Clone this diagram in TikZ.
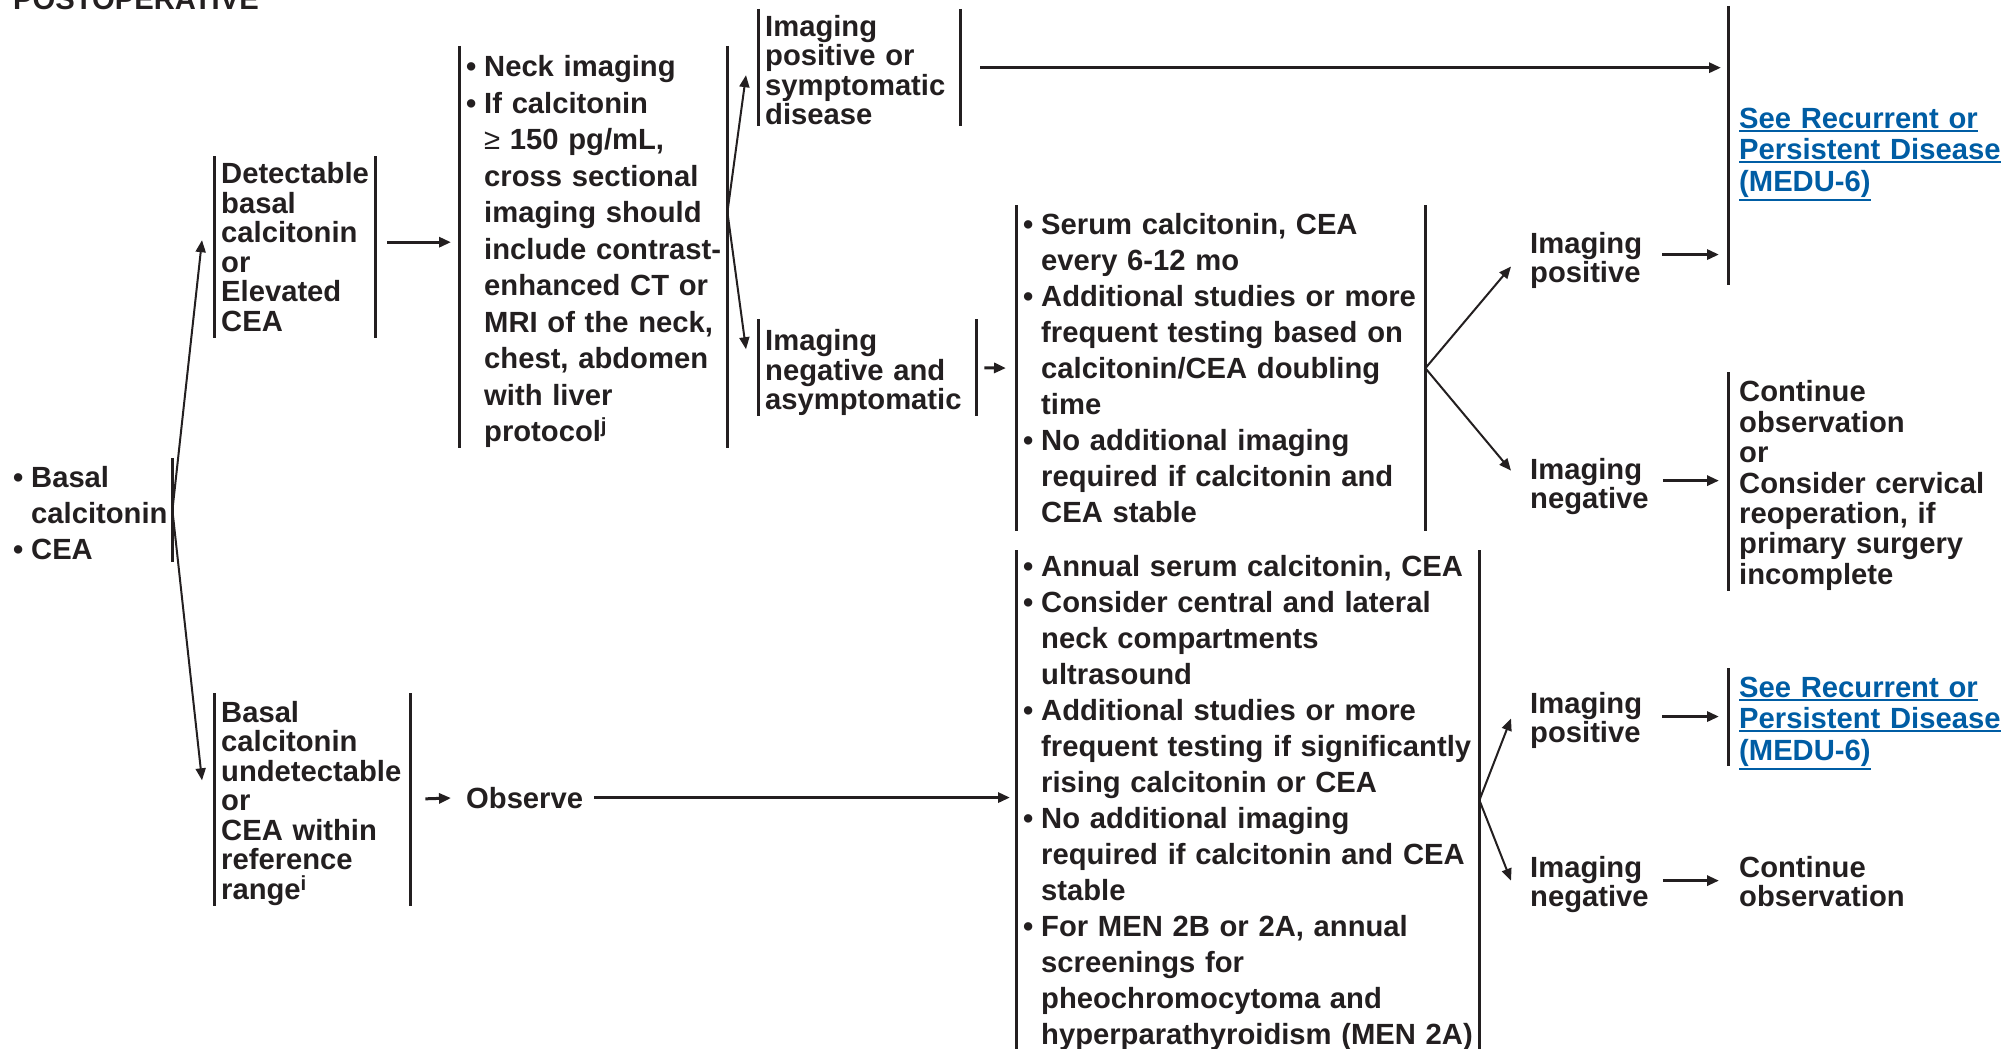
\documentclass[tikz,border=0pt]{standalone}
\usepackage{fontspec}
\setmainfont{Liberation Sans}
\usepackage{tikz}
\usetikzlibrary{arrows.meta, positioning, calc}

\definecolor{ink}{RGB}{35,31,32}
\definecolor{linkblue}{RGB}{0,93,164}
\newcommand{\bu}{\makebox[18pt][l]{\textbullet}} % dấu chấm đầu dòng
\newcommand{\ind}{\hspace*{18pt}} % thụt lề dòng tiếp theo
\newcommand{\dn}[1]{\rule{0pt}{#1pt}} % đẩy khối chữ xuống
\newsavebox{\lnkbox}
\newcommand{\lnk}[1]{\leavevmode\sbox{\lnkbox}{#1}\rlap{\smash{\rule[-\dimexpr\dp\lnkbox+3.5pt\relax]{\wd\lnkbox}{2pt}}}\usebox{\lnkbox}} % gạch chân liên kết
\hyphenpenalty=10000
\exhyphenpenalty=10000

\begin{document}
\begin{tikzpicture}[x=1pt, y=-1pt, >={Triangle[length=12pt,width=10pt]},
    every node/.style={inner sep=0pt, text=ink, font=\bfseries\fontsize{29.2}{29.5}\selectfont},
    list/.style={font=\bfseries\fontsize{29.2}{36}\selectfont},
    bar/.style={draw=ink, line width=3pt},
    arr/.style={draw=ink, line width=3pt, ->},
    diag/.style={draw=ink, line width=2pt, ->},
    box/.style={anchor=north west, align=left, inner xsep=7pt, inner ysep=0pt},
    lr/.style={box, append after command={
        (\tikzlastnode.north west) edge[bar] (\tikzlastnode.south west)
        (\tikzlastnode.north east) edge[bar] (\tikzlastnode.south east)}},
    lbar/.style={box, inner xsep=11pt, append after command={
        (\tikzlastnode.north west) edge[bar] (\tikzlastnode.south west)}},
    rbar/.style={box, append after command={
        (\tikzlastnode.north east) edge[bar] (\tikzlastnode.south east)}},
    link/.style={lbar, text=linkblue, font=\bfseries\fontsize{29.2}{31.5}\selectfont},
    plain/.style={anchor=north west, align=left}]

            \useasboundingbox (0,0) rectangle (2014,1049); % khung trang

            % Tiêu đề (bị cắt ở mép trên)
            \node[anchor=base west] (title) at (13,10) {POSTOPERATIVE};

            % Cột 1
            \node[rbar, list, text width=152pt, minimum width=166pt, minimum height=104pt] (start) at (6,458)
                {\dn{27}\bu Basal\\ \ind calcitonin\\ \bu CEA};

            % Cột 2
            \node[lr, text width=147pt, minimum width=161pt, minimum height=182pt] (detect) at (214,156)
                {Detectable\\ basal\\ calcitonin\\ or\\ Elevated\\ CEA};
            \node[lr, text width=182pt, minimum width=196pt, minimum height=208pt] (undet) at (214,693)
                {\dn{29}Basal\\ calcitonin\\ undetectable\\ or\\ CEA within\\ reference\\ range\textsuperscript{i}};

            % Cột 3
            \node[lr, list, font=\bfseries\fontsize{29.2}{36.5}\selectfont, text width=254pt, minimum width=268pt, minimum height=402pt] (neck) at (459,46)
                {\dn{30}\bu Neck imaging\\
                 \bu If calcitonin\\
                 \ind {\mdseries ≥} 150 pg/mL,\\
                 \ind cross sectional\\
                 \ind imaging should\\
                 \ind \mbox{include contrast-}\\
                 \ind enhanced CT or\\
                 \ind MRI of the neck,\\
                 \ind chest, abdomen\\
                 \ind with liver\\
                 \ind protocol\textsuperscript{j}};
            \node[anchor=base west] (observe) at (466,808) {Observe};

            % Cột 4
            \node[lr, text width=188pt, minimum width=202pt, minimum height=117pt] (imgpos) at (758,9)
                {\dn{26}Imaging\\ positive or\\ symptomatic\\ disease};
            \node[lr, text width=204pt, minimum width=218pt, minimum height=97pt] (imgneg) at (758,319)
                {\dn{31}Imaging\\ negative and\\ asymptomatic};

            % Cột 5
            \node[lr, list, text width=395pt, minimum width=409pt, minimum height=326pt] (serum) at (1016,205)
                {\bu Serum calcitonin, CEA\\
                 \ind every 6-12 mo\\
                 \bu Additional studies or more\\
                 \ind frequent testing based on\\
                 \ind calcitonin/CEA doubling\\
                 \ind time\\
                 \bu No additional imaging\\
                 \ind required if calcitonin and\\
                 \ind CEA stable};
            \node[lr, list, text width=449pt, minimum width=463pt, minimum height=500pt] (annual) at (1016,550)
                {\dn{26}\bu Annual serum calcitonin, CEA\\
                 \bu Consider central and lateral\\
                 \ind neck compartments\\
                 \ind ultrasound\\
                 \bu Additional studies or more\\
                 \ind \mbox{frequent testing if significantly}\\
                 \ind rising calcitonin or CEA\\
                 \bu No additional imaging\\
                 \ind \mbox{required if calcitonin and CEA}\\
                 \ind stable\\
                 \bu For MEN 2B or 2A, annual\\
                 \ind screenings for\\
                 \ind pheochromocytoma and\\
                 \ind \mbox{hyperparathyroidism (MEN 2A)}};

            % Cột 6
            \node[plain] (ipos1) at (1530,232) {Imaging\\ positive};
            \node[plain] (ineg1) at (1530,458) {Imaging\\ negative};
            \node[plain] (ipos2) at (1530,692) {Imaging\\ positive};
            \node[plain] (ineg2) at (1530,856) {Imaging\\ negative};

            % Cột 7
            \node[link, text width=266pt, minimum height=279pt] (link1) at (1728,6)
                {\dn{34}\lnk{See Recurrent or}\\ \lnk{Persistent Disease}\\ \lnk{(MEDU-6)}};
            \node[lbar, text width=266pt, minimum height=219pt, font=\bfseries\fontsize{29.2}{30.4}\selectfont] (cont1) at (1728,372)
                {\dn{29}Continue\\ observation\\ or\\ Consider cervical\\ reoperation, if\\ primary surgery\\ incomplete};
            \node[link, text width=266pt, minimum height=96pt] (link2) at (1728,668)
                {\dn{29}\lnk{See Recurrent or}\\ \lnk{Persistent Disease}\\ \lnk{(MEDU-6)}};
            \node[plain] (cont2) at (1739,856) {Continue\\ observation};

            % Mũi tên từ cột 1
            \draw[diag] (start.east) -- ([xshift=-12pt,yshift=7pt]detect.west);
            \draw[diag] (start.east) -- ([xshift=-12pt,yshift=19pt]undet.west);

            % Mũi tên từ cột 2
            \draw[arr] ([xshift=12pt,yshift=5pt]detect.east) -- ([xshift=-8pt,yshift=5pt]neck.west);
            \draw[arr, shorten <=15pt, shorten >=15pt] (undet.east) -- (observe.west);

            % Phân nhánh từ cột 3
            \coordinate (neckfork) at ([yshift=35pt]neck.east);
            \draw[diag] (neckfork) -- ([xshift=-12pt,yshift=-7.5pt]imgpos.west);
            \draw[diag] (neckfork) -- ([xshift=-12pt,yshift=18.5pt]imgneg.west);
            \draw[arr, shorten <=11pt, shorten >=6pt] (observe.east) -- (observe.east -| annual.west);

            % Mũi tên từ cột 4
            \draw[arr, shorten <=20pt, shorten >=7pt] (imgpos.east) -- (imgpos.east -| link1.west);
            \draw[arr, shorten <=8pt, shorten >=10pt] (imgneg.east) -- (serum.west);

            % Phân nhánh từ cột 5
            \draw[diag] (serum.east) -- ([xshift=-19pt,yshift=-6pt]ipos1.west);
            \draw[diag] (serum.east) -- ([xshift=-19pt,yshift=16pt]ineg1.west);
            \draw[diag] (annual.east) -- ([xshift=-19pt,yshift=2pt]ipos2.west);
            \draw[diag] (annual.east) -- ([xshift=-19pt,yshift=4pt]ineg2.west);

            % Mũi tên từ cột 6
            \coordinate (p1) at ([yshift=6pt]ipos1.east);
            \coordinate (n1) at ([yshift=6pt]ineg1.east);
            \coordinate (p2) at ([yshift=4pt]ipos2.east);
            \coordinate (n2) at ([yshift=4pt]ineg2.east);
            \draw[arr, shorten <=20pt, shorten >=9pt] (p1) -- (p1 -| link1.west);
            \draw[arr, shorten <=14pt, shorten >=9pt] (n1) -- (n1 -| cont1.west);
            \draw[arr, shorten <=20pt, shorten >=9pt] (p2) -- (p2 -| link2.west);
            \draw[arr, shorten <=14pt, shorten >=20pt] (n2) -- (n2 -| cont2.west);

\end{tikzpicture}
\end{document}
